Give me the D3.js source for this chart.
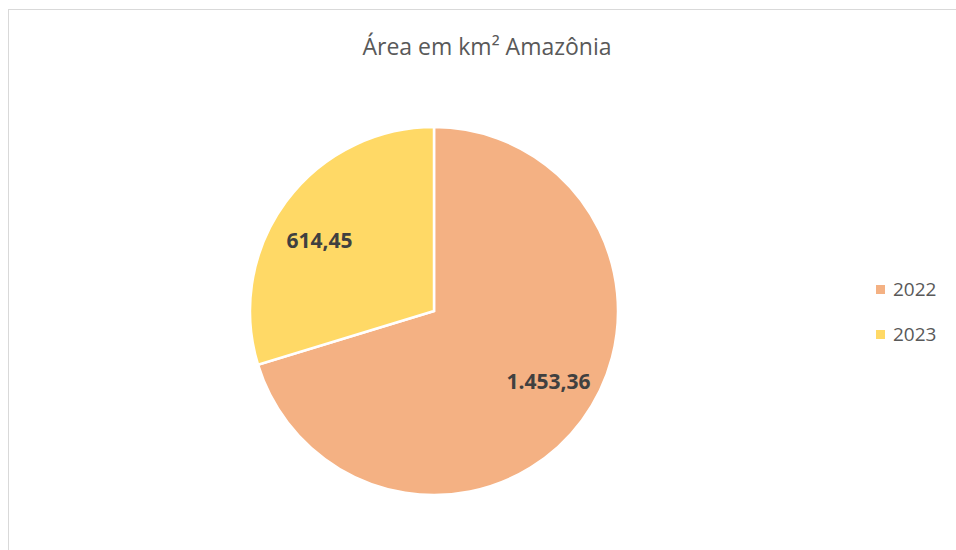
<!DOCTYPE html>
<html>
<head>
<meta charset="utf-8">
<script src="https://cdn.jsdelivr.net/npm/d3@7"></script>
<style>
    body { margin: 0; background: #fff; }
    svg text { font-family: "Open Sans", "Noto Sans", sans-serif; }
</style>
</head>
<body>
<div class="main_content"></div>
<script>
// Data
const years = ['2022', '2023'];
const areas = [1453.36, 614.45];
const areaLabels = ['1.453,36', '614,45'];
const colors = ['#F4B183', '#FFD966'];
const title = 'Área em km² Amazônia';

const width = 956, height = 550;
const center = {x: 434, y: 311};
const radius = 184;

let svg = d3.select('.main_content')
    .append('svg')
    .attr('width', width)
    .attr('height', height);

// Chart frame
svg.append('rect')
    .attr('x', 8.5)
    .attr('y', 9.5)
    .attr('width', 960)
    .attr('height', 560)
    .attr('fill', '#fff')
    .attr('stroke', '#d9d9d9')
    .attr('stroke-width', 1);

// Title
svg.append('text')
    .attr('x', 487)
    .attr('y', 55)
    .attr('text-anchor', 'middle')
    .style('font-size', '23px')
    .style('fill', '#595959')
    .text(title);

// Pie
let pie = d3.pie()
    .sort(null)
    .value(d => d);

let arcs = pie(areas);

let arc = d3.arc()
    .innerRadius(0)
    .outerRadius(radius);

// labels sit a bit counter-clockwise of the slice middle (best fit)
let labelR = radius * 0.73;
let labelShift = -5 * Math.PI / 180;
function labelPos(d) {
    let a = (d.startAngle + d.endAngle) / 2 + labelShift;
    return [Math.sin(a) * labelR, -Math.cos(a) * labelR];
}

let g = svg.append('g')
    .attr('transform', 'translate(' + center.x + ',' + center.y + ')');

g.selectAll('path.slice')
    .data(arcs)
    .enter().append('path')
    .classed('slice', true)
    .attr('d', arc)
    .attr('fill', (d, i) => colors[i])
    .attr('stroke', '#fff')
    .attr('stroke-width', 2.5)
    .attr('stroke-linejoin', 'miter');

g.selectAll('text.value')
    .data(arcs)
    .enter().append('text')
    .classed('value', true)
    .attr('transform', d => 'translate(' + labelPos(d) + ')')
    .attr('text-anchor', 'middle')
    .attr('dy', '0.35em')
    .style('font-size', '21px')
    .style('font-weight', 'bold')
    .style('fill', '#404040')
    .text((d, i) => areaLabels[i]);

// Legend
let legend = svg.selectAll('g.legend')
    .data(years)
    .enter().append('g')
    .classed('legend', true)
    .attr('transform', (d, i) => 'translate(876,' + (289 + i * 45) + ')');

legend.append('rect')
    .attr('x', 0)
    .attr('y', -4)
    .attr('width', 9)
    .attr('height', 9)
    .attr('fill', (d, i) => colors[i]);

legend.append('text')
    .attr('x', 17)
    .attr('y', 0)
    .attr('dy', '0.35em')
    .style('font-size', '19px')
    .style('fill', '#595959')
    .text(d => d);
</script>
</body>
</html>
